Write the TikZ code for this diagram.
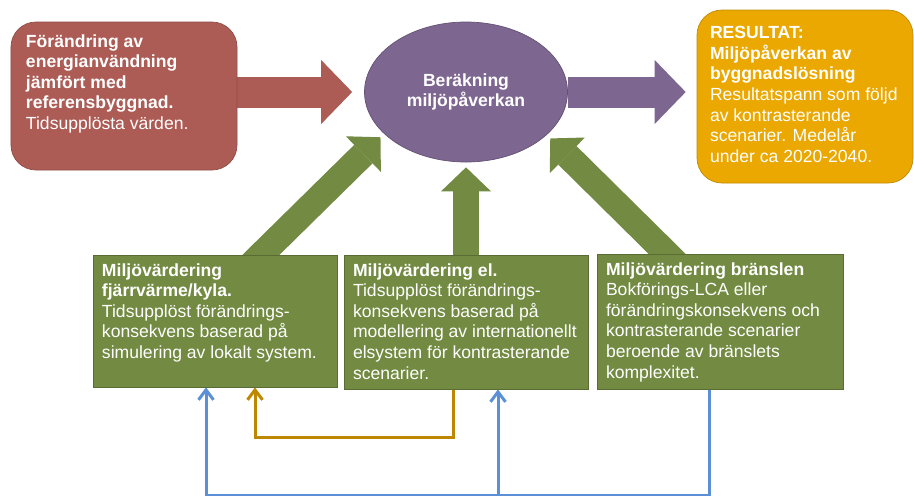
\documentclass[tikz,border=0pt]{standalone}
\usepackage{fontspec}
\setmainfont{Liberation Sans}
\usepackage{xcolor}
\usepackage{tikz}
\usetikzlibrary{calc,positioning,arrows.meta,backgrounds}
\usetikzlibrary{shapes.geometric}

\definecolor{rodbrun}{HTML}{AD5C55}
\definecolor{lila}{HTML}{7D6690}
\definecolor{guld}{HTML}{EAA800}
\definecolor{gron}{HTML}{728A41}
\definecolor{blalinje}{HTML}{5B8FD6}
\definecolor{guldlinje}{HTML}{BF8700}

\tikzset{
	rundruta/.style={rectangle, rounded corners=0.5cm, draw=#1!82!black, fill=#1, text=white, font=\fontsize{10}{11.7}\selectfont},
	gronruta/.style={rectangle, draw=gron!78!black, fill=gron, text=white, inner xsep=0.18cm, inner ysep=0.17cm, font=\fontsize{10}{11.7}\selectfont},
	bubbla/.style={ellipse, draw=lila!80!black, fill=lila, text=white, minimum width=4.06cm, minimum height=2.8cm, align=center, font=\bfseries\fontsize{10}{11.4}\selectfont},
	blockpil/.style={draw=#1, line width=0.62cm, -{Triangle[length=0.62cm,width=1.28cm,line width=0pt]}},
	gronpil/.style={draw=gron, line width=0.52cm, -{Triangle[length=0.48cm,width=1cm,line width=0pt]}},
	tunnpil/.style={draw=#1, line width=0.06cm, -{Straight Barb[length=0.2cm,width=0.3cm]}}
}

\begin{document}
\begin{tikzpicture}[x=0.2mm,y=-0.2mm]
	\useasboundingbox (0,0) rectangle (914,495);
	% indata och resultat
	\node[rundruta=rodbrun, inner xsep=0.3cm, inner ysep=0.25cm] (referens) at (124,96) {\parbox[c][2.46cm][t]{3.92cm}{\textbf{Förändring av\\ energianvändning\\ jämfört med\\ referensbyggnad.}\\ Tidsupplösta värden.}};
	\node[bubbla] (berakning) at (466,92) {Beräkning\\ miljöpåverkan};
	\node[rundruta=guld, inner xsep=0.26cm, inner ysep=0.33cm] (resultat) at (805,96.5) {\parbox[c][2.8cm][t]{3.8cm}{\textbf{RESULTAT:\\ Miljöpåverkan av\\ byggnadslösning}\\ Resultatspann som följd\\ av kontrasterande\\ scenarier. Medelår\\ under ca 2020-2040.}};
	% miljövärderingar
	\node[gronruta] (fjv) at (215,321) {\parbox[c][2.3cm][t]{4.52cm}{\textbf{Miljövärdering\\ fjärrvärme/kyla.}\\ Tidsupplöst förändrings-\\ konsekvens baserad på\\ simulering av lokalt system.}};
	\node[gronruta] (el) at (466,322) {\parbox[c][2.34cm][t]{4.52cm}{\textbf{Miljövärdering el.}\\ Tidsupplöst förändrings-\\ konsekvens baserad på\\ modellering av internationellt\\ elsystem för kontrasterande\\ scenarier.}};
	\node[gronruta] (bransle) at (720,321.5) {\parbox[c][2.36cm][t]{4.56cm}{\textbf{Miljövärdering bränslen}\\ Bokförings-LCA eller\\ förändringskonsekvens och\\ kontrasterande scenarier\\ beroende av bränslets\\ komplexitet.}};
	% pilar
	\begin{scope}[on background layer]
		\draw[blockpil=rodbrun, shorten >=0.24cm] (referens.east |- berakning.west) -- (berakning.west);
		\draw[blockpil=lila, shorten >=0.22cm] (berakning.east) -- (resultat.west |- berakning.east);
		\draw[gronpil, shorten >=0.1cm] ($(fjv.north)+(36,10)$) -- (berakning.207);
		\draw[gronpil, shorten >=0.1cm] (el.north) -- (berakning.south);
		\draw[gronpil, shorten >=0.1cm] ($(bransle.north)+(-43,10)$) -- (berakning.332);
		\draw[tunnpil=guldlinje] ($(el.south)+(-13,0)$) -- ++(0,48) -| ($(fjv.south)+(40,0)$);
		\draw[tunnpil=blalinje] ($(bransle.south)+(-11,0)$) -- ++(0,106) coordinate (hornet) -| ($(fjv.south)+(-9,0)$);
		\coordinate (elpil) at ($(el.south)+(32,0)$);
		\draw[tunnpil=blalinje] (elpil |- hornet) -- (elpil);
	\end{scope}
\end{tikzpicture}
\end{document}
